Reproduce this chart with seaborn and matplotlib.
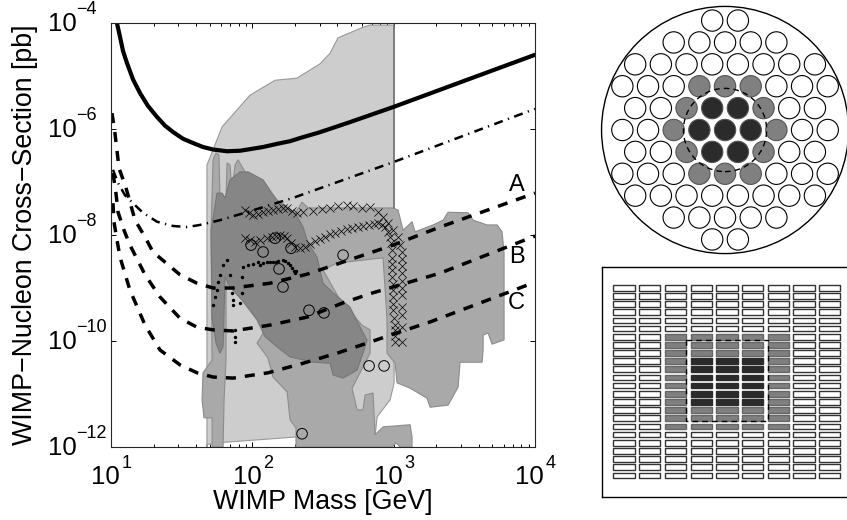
"""
plot.py
WIMP exclusion plot with the two PMT array sketches beside it.
Regions and curves are log10 values read off the original figure.
"""
import numpy as np
import matplotlib
matplotlib.use("Agg")
import matplotlib.pyplot as plt
from matplotlib.patches import Circle, Rectangle
import seaborn as sns

# log10(mass), log10(cross-section)
light_x = [1.679, 1.679, 1.786, 1.984, 2.161, 2.316, 2.479, 2.550, 2.606, 2.783, 2.833, 3.003, 3.003, 2.975, 2.883, 2.868, 2.316, 1.807, 1.679]
light_y = [-12, -6.68, -5.96, -5.36, -5.08, -5.04, -4.77, -4.57, -4.28, -4.08, -4.04, -4.04, -10.79, -11.11, -11.43, -11.81, -11.81, -11.91, -11.95]

medium_x = [2.316, 2.352, 2.394, 2.996, 3.031, 3.067, 3.130, 3.151, 3.279, 3.350, 3.385, 3.527, 3.562, 3.661, 3.732, 3.767, 3.781, 3.781,
            3.696, 3.668, 3.633, 3.633, 3.626, 3.470, 3.456, 3.385, 3.258, 3.236, 3.116, 3.024, 3.010, 2.953, 2.953, 2.925, 2.599, 2.500,
            2.621, 2.776, 2.833, 2.833, 2.706, 2.741, 2.783, 2.798, 2.854, 2.868, 2.925, 3.116, 3.130, 3.130, 3.045, 3.017, 2.989, 2.309,
            2.309, 2.267, 2.246, 2.146, 2.111, 2.033, 2.068, 2.196]
medium_y = [-7.53, -7.38, -7.49, -7.49, -7.53, -7.91, -7.75, -7.94, -7.81, -7.72, -7.57, -7.58, -7.72, -7.81, -7.81, -7.94, -8.34, -9.98,
            -10.06, -9.85, -9.89, -10.17, -10.40, -10.40, -10.87, -11.21, -11.25, -11.08, -10.89, -10.79, -10.42, -10.23, -9.60, -8.43, -8.53, -8.66,
            -9.23, -9.70, -9.79, -10.23, -10.89, -11.30, -11.30, -11.02, -10.98, -11.77, -11.62, -11.58, -11.81, -12, -12, -11.92, -12, -12,
            -11.64, -11.49, -10.96, -10.68, -10.32, -10.04, -9.89, -9.23]

sliver_x = [1.722, 1.743, 1.764, 1.771, 1.814, 1.821, 1.842, 1.856, 1.878, 1.899, 1.948, 1.984, 1.814, 1.814, 1.800, 1.793, 1.715, 1.715, 1.658, 1.644, 1.651, 1.715, 1.708]
sliver_y = [-6.58, -6.45, -6.49, -7.25, -7.30, -6.64, -6.68, -7.15, -6.68, -6.58, -6.81, -7.34, -9.04, -10.36, -11.11, -12, -12, -11.45, -11.45, -11.11, -10.60, -10.36, -7.91]

dark_x = [1.913, 1.970, 2.076, 2.139, 2.175, 2.246, 2.302, 2.359, 2.394, 2.458, 2.500, 2.571, 2.691, 2.798, 2.812, 2.783, 2.741, 2.642, 2.571,
          2.550, 2.430, 2.267, 2.175, 2.090, 2.033, 1.927, 1.842, 1.807, 1.793, 1.771, 1.743, 1.715, 1.708, 1.750, 1.786, 1.807, 1.842]
dark_y = [-6.81, -6.81, -6.96, -7.21, -7.34, -7.47, -7.58, -7.85, -8.15, -8.42, -8.91, -9.09, -9.36, -9.92, -9.98, -10.23, -10.55, -10.70, -10.64,
          -10.42, -10.40, -10.30, -10.11, -9.92, -9.60, -9.23, -8.98, -8.79, -10.11, -10.23, -10.04, -9.55, -7.91, -7.21, -7.21, -7.30, -6.96]

solid_x = [1.042, 1.064, 1.085, 1.113, 1.156, 1.205, 1.262, 1.326, 1.382, 1.439, 1.510, 1.580, 1.651, 1.722, 1.821, 1.913, 1.984, 2.076, 2.175, 2.267, 2.338, 2.479, 2.691, 3.003, 3.399, 4.0]
solid_y = [-4.0, -4.264, -4.528, -4.755, -5.066, -5.321, -5.566, -5.774, -5.936, -6.057, -6.185, -6.264, -6.340, -6.387, -6.42, -6.41, -6.38, -6.34, -6.28, -6.23, -6.17, -6.06, -5.87, -5.58, -5.19, -4.60]

dashdot_x = [1.014, 1.050, 1.099, 1.156, 1.226, 1.326, 1.439, 1.538, 1.630, 1.771, 1.948, 2.288, 3.003, 4.0]
dashdot_y = [-6.77, -7.02, -7.25, -7.40, -7.58, -7.75, -7.83, -7.85, -7.81, -7.72, -7.58, -7.30, -6.62, -5.62]

curve_a_x = [1.007, 1.028, 1.042, 1.057, 1.106, 1.170, 1.241, 1.297, 1.488, 1.609, 1.722, 1.863, 2.125, 2.387, 2.642, 2.996, 3.328, 4.0]
curve_a_y = [-5.70, -6.08, -6.40, -6.74, -7.11, -7.72, -8.04, -8.32, -8.75, -8.91, -9.00, -9.00, -8.91, -8.74, -8.51, -8.19, -7.85, -7.21]
curve_b_x = [1.014, 1.035, 1.050, 1.092, 1.134, 1.241, 1.347, 1.488, 1.609, 1.722, 1.863, 2.125, 2.387, 2.642, 2.854, 2.996, 3.328, 4.0]
curve_b_y = [-6.83, -7.21, -7.57, -7.91, -8.19, -8.75, -9.17, -9.57, -9.74, -9.79, -9.81, -9.70, -9.55, -9.28, -9.09, -8.98, -8.72, -8.02]
curve_c_x = [1.014, 1.021, 1.042, 1.064, 1.134, 1.241, 1.347, 1.488, 1.609, 1.722, 1.863, 2.111, 2.359, 2.599, 2.812, 2.975, 3.258, 4.0]
curve_c_y = [-7.40, -7.75, -8.09, -8.42, -9.04, -9.70, -10.17, -10.45, -10.60, -10.68, -10.70, -10.60, -10.42, -10.23, -10.04, -9.89, -9.64, -8.89]

upper_x = [1.948, 1.977, 2.005, 2.040, 2.076, 2.111, 2.146, 2.182, 2.217, 2.246, 2.281, 2.316, 2.359, 2.430, 2.493, 2.550, 2.606, 2.670, 2.713, 2.776,
           2.833, 2.890, 2.925, 2.960, 2.996, 3.031, 3.045, 3.059, 3.059, 3.059, 3.059, 3.059, 3.059, 3.059, 3.059, 3.059, 3.059, 3.059]
upper_y = [-7.53, -7.58, -7.62, -7.60, -7.57, -7.55, -7.53, -7.51, -7.49, -7.49, -7.55, -7.58, -7.57, -7.55, -7.51, -7.49, -7.45, -7.43, -7.45, -7.49,
           -7.47, -7.57, -7.66, -7.77, -7.91, -8.04, -8.19, -8.32, -8.45, -8.58, -8.72, -8.87, -9.00, -9.13, -9.36, -9.51, -9.74, -10.02]
lower_x = [1.948, 1.984, 2.019, 2.054, 2.104, 2.139, 2.168, 2.196, 2.224, 2.246, 2.274, 2.302, 2.338, 2.373, 2.408, 2.444, 2.479, 2.515, 2.550, 2.585, 2.628, 2.670, 2.706, 2.748,
           2.783, 2.826, 2.861, 2.890, 2.918, 2.939, 2.960, 2.975, 2.982, 2.989, 2.989, 2.989, 2.989, 2.989, 2.996, 2.996, 2.996, 2.996, 2.996, 3.003, 3.010, 3.010, 3.010, 3.010]
lower_y = [-8.06, -8.09, -8.13, -8.09, -8.06, -8.04, -8.02, -8.00, -8.02, -8.06, -8.15, -8.23, -8.25, -8.23, -8.17, -8.11, -8.08, -8.04, -7.98, -7.96, -7.92, -7.89, -7.87, -7.85,
           -7.83, -7.81, -7.79, -7.77, -7.81, -7.85, -7.94, -8.04, -8.15, -8.28, -8.43, -8.55, -8.66, -8.79, -8.92, -9.04, -9.17, -9.30, -9.42, -9.57, -9.70, -9.79, -9.91, -10.02]

dots_x = [1.934, 1.970, 2.005, 2.040, 2.076, 2.054, 2.104, 2.125, 2.146, 2.168, 2.182, 2.217, 2.231, 2.253, 2.267, 2.281, 2.295, 2.302, 2.309, 1.927,
          1.821, 1.793, 1.771, 1.757, 1.750, 1.736, 1.722, 1.842, 1.856, 1.863, 1.863, 1.878, 1.878, 1.878, 1.927, 1.913]
dots_y = [-8.60, -8.57, -8.55, -8.51, -8.53, -8.57, -8.51, -8.51, -8.51, -8.51, -8.49, -8.47, -8.49, -8.53, -8.57, -8.62, -8.68, -8.72, -8.68, -8.79,
          -8.47, -8.57, -8.75, -8.89, -9.04, -9.17, -9.32, -8.75, -9.09, -9.23, -9.32, -9.79, -9.92, -10.02, -9.09, -9.28]

rings_x = [1.991, 2.076, 2.161, 2.274, 2.189, 2.217, 2.401, 2.507, 2.642, 2.826, 2.932, 2.352]
rings_y = [-8.19, -8.32, -8.06, -8.25, -8.64, -8.98, -9.42, -9.47, -8.38, -10.47, -10.47, -11.75]

x_ticks = [1e1, 1e2, 1e3, 1e4]
x_exponents = ["1", "2", "3", "4"]
y_ticks = [1e-12, 1e-10, 1e-8, 1e-6, 1e-4]
y_exponents = ["\u221212", "\u221210", "\u22128", "\u22126", "\u22124"]

# top view of the PMT array, columns in units of the pitch
row_offsets = [
    [-0.5, 0.5],
    [-2, -1, 0, 1, 2],
    [-3.5, -2.5, -1.5, -0.5, 0.5, 1.5, 2.5, 3.5],
    [-4, -3, -2, -1, 0, 1, 2, 3, 4],
    [-3.5, -2.5, -1.5, -0.5, 0.5, 1.5, 2.5, 3.5],
    [-4, -3, -2, -1, 0, 1, 2, 3, 4],
    [-3.5, -2.5, -1.5, -0.5, 0.5, 1.5, 2.5, 3.5],
    [-4, -3, -2, -1, 0, 1, 2, 3, 4],
    [-3.5, -2.5, -1.5, -0.5, 0.5, 1.5, 2.5, 3.5],
    [-2, -1, 0, 1, 2],
    [-0.5, 0.5],
]
core_pmts = [(4, -0.5), (4, 0.5), (5, -1), (5, 0), (5, 1), (6, -0.5), (6, 0.5)]
ring_pmts = [(3, -1), (3, 0), (3, 1), (4, -1.5), (4, 1.5), (5, -2), (5, 2), (6, -1.5), (6, 1.5), (7, -1), (7, 0), (7, 1)]

# side view: 24 rows, 9 columns
n_rows = 24
n_cols = 9

LIGHT, MEDIUM, DARK = "#cdcdcd", "#a9a9a9", "#868686"

sns.set_style("ticks")
plt.rcParams["font.family"] = ["Liberation Sans", "DejaVu Sans"]
plt.rcParams["text.color"] = "black"
plt.rcParams["axes.labelcolor"] = "black"

W, H = 847, 520
fig = plt.figure(figsize=(W / 100, H / 100), dpi=100)


def px_axes(left, top, right, bottom):
    return fig.add_axes([left / W, 1 - bottom / H, (right - left) / W, (bottom - top) / H])


def logline(ax, xs, ys, **kw):
    sns.lineplot(x=10 ** np.array(xs), y=10 ** np.array(ys), ax=ax, sort=False, estimator=None, color="black", **kw)


def tick_text(ax, txt, xy, coords, dx, dy, size, ha):
    # offsets given in pixels
    ax.annotate(txt, xy=xy, xycoords=coords, xytext=(dx * 0.72, dy * 0.72), textcoords="offset points",
                fontsize=size, ha=ha, va="center", annotation_clip=False)


ax = px_axes(111, 23, 535, 447)
ax.set_xscale("log")
ax.set_yscale("log")

ax.fill(10 ** np.array(light_x), 10 ** np.array(light_y), fc=LIGHT, ec="#999999", lw=0.8, zorder=1)
ax.fill(10 ** np.array(medium_x), 10 ** np.array(medium_y), fc=MEDIUM, ec="#8c8c8c", lw=0.8, zorder=1.2)
ax.fill(10 ** np.array(sliver_x), 10 ** np.array(sliver_y), fc=MEDIUM, ec="#8c8c8c", lw=0.8, zorder=1.2)
ax.fill(10 ** np.array(dark_x), 10 ** np.array(dark_y), fc=DARK, ec="#777777", lw=0.8, zorder=1.4)
ax.plot([1e3, 1e3], [10 ** -4.04, 10 ** -7.49], color="#707070", lw=1.1, zorder=1.5)

logline(ax, solid_x, solid_y, lw=3.0, zorder=5)
logline(ax, dashdot_x, dashdot_y, lw=1.8, linestyle=(0, (3.6, 2.2, 0.5, 2.2)), zorder=3)
for cx, cy in [(curve_a_x, curve_a_y), (curve_b_x, curve_b_y), (curve_c_x, curve_c_y)]:
    logline(ax, cx, cy, lw=2.5, linestyle=(0, (2.9, 2.6)), zorder=4)

sns.scatterplot(x=10 ** np.array(upper_x), y=10 ** np.array(upper_y), ax=ax, marker="x", s=34, color="black", linewidth=0.5, zorder=3.5)
sns.scatterplot(x=10 ** np.array(lower_x), y=10 ** np.array(lower_y), ax=ax, marker="x", s=34, color="black", linewidth=0.5, zorder=3.5)
sns.scatterplot(x=10 ** np.array(dots_x), y=10 ** np.array(dots_y), ax=ax, marker="o", s=6, color="black", linewidth=0, zorder=3.5)
sns.scatterplot(x=10 ** np.array(rings_x), y=10 ** np.array(rings_y), ax=ax, marker="o", s=58, facecolor="none", edgecolor="black", linewidth=0.7, zorder=3.5)

ax.set_xlim(1e1, 1e4)
ax.set_ylim(1e-12, 1e-4)
ax.set_xticks(x_ticks)
ax.set_yticks(y_ticks)
ax.yaxis.set_minor_locator(matplotlib.ticker.NullLocator())
ax.tick_params(which="both", direction="in", top=True, right=True, color="black", width=0.7, length=3.5,
               labelbottom=False, labelleft=False)
ax.tick_params(which="minor", length=2.2)
for t, e in zip(x_ticks, x_exponents):
    tick_text(ax, "10", (t, 0), ("data", "axes fraction"), 9, -30, 18.5, "right")
    tick_text(ax, e, (t, 0), ("data", "axes fraction"), 11, -16, 13, "left")
for t, e in zip(y_ticks, y_exponents):
    tick_text(ax, "10", (0, t), ("axes fraction", "data"), -63, -1, 18.5, "left")
    tick_text(ax, e, (0, t), ("axes fraction", "data"), -35, 13.5, 13, "left")
ax.set_xlabel("WIMP Mass [GeV]", fontsize=19.3, labelpad=0)
ax.set_ylabel("WIMP\u2212Nucleon Cross\u2212Section [pb]", fontsize=19.3, labelpad=0)
ax.xaxis.set_label_coords(0.5, -0.1)
ax.yaxis.set_label_coords(-0.173, 0.5)
for sp in ax.spines.values():
    sp.set_linewidth(0.8)
    sp.set_zorder(6)
ax.text(10 ** 3.87, 10 ** -7.06, "A", fontsize=17, ha="center", va="center", zorder=7)
ax.text(10 ** 3.87, 10 ** -8.42, "B", fontsize=17, ha="center", va="center", zorder=7)
ax.text(10 ** 3.87, 10 ** -9.28, "C", fontsize=17, ha="center", va="center", zorder=7)

# top view
top = px_axes(590, 0, 847, 260)
top.set_xlim(-5.26, 4.75)
top.set_ylim(-5.06, 5.06)
top.axis("off")
top.add_patch(Circle((0, 0), 4.81, fc="white", ec="black", lw=1.0, clip_on=False))
for r, offsets in enumerate(row_offsets):
    for c in offsets:
        fc = "white"
        if (r, c) in core_pmts:
            fc = "#2b2b2b"
        elif (r, c) in ring_pmts:
            fc = "#808080"
        ec = "black" if fc == "white" else "#555555"
        top.add_patch(Circle((c, (5 - r) * 0.852), 0.415, fc=fc, ec=ec, lw=0.8))
top.add_patch(Circle((0, 0), 1.62, fc="none", ec="black", lw=1.0, ls=(0, (4, 3))))

# side view
side = px_axes(602, 267, 849, 497)
side.set_xlim(-0.86, 8.75)
side.set_ylim(25.65, -2.54)
side.set_xticks([])
side.set_yticks([])
for sp in side.spines.values():
    sp.set_linewidth(1.0)
    sp.set_color("black")
for r in range(n_rows):
    for c in range(n_cols):
        fc, ec = "white", "#333333"
        if 6 <= r <= 17 and 2 <= c <= 6:
            fc, ec = "#808080", "#666666"
            if 9 <= r <= 14 and 3 <= c <= 5:
                fc, ec = "#2b2b2b", "#2b2b2b"
        side.add_patch(Rectangle((c - 0.415, r - 0.35), 0.83, 0.70, fc=fc, ec=ec, lw=1.0))
side.add_patch(Rectangle((2.40, 6.41), 3.20, 9.92, fc="none", ec="black", lw=1.0, ls=(0, (4, 3))))

fig.savefig("out.png", dpi=100)
